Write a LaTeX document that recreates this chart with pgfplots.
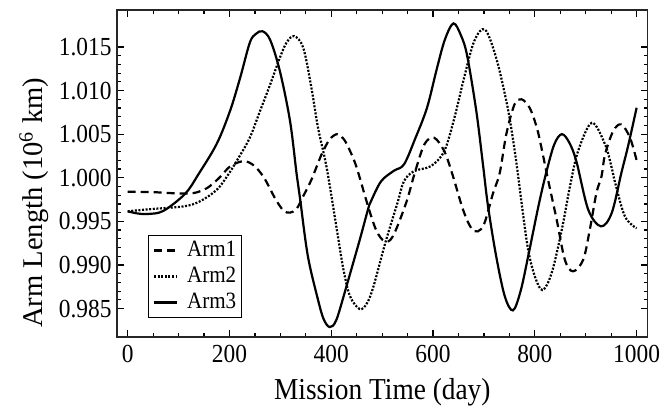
\documentclass[border=0pt]{standalone}
\usepackage{fontspec}
\setmainfont[FakeStretch=0.9]{Liberation Serif}
\newfontfamily\yfont{Liberation Serif}
\newcommand\legfont{\fontsize{11.7}{14}\selectfont}
\usepackage{pgfplots}
\pgfplotsset{compat=1.18}
\begin{document}
\begin{tikzpicture}
\begin{axis}[
  scale only axis, width=265.3pt, height=163.5pt,
  xmin=-21, xmax=1021.6, ymin=0.98174, ymax=1.01924,
  xtick={0,200,400,600,800,1000}, minor x tick num=3,
  ytick={0.985,0.99,0.995,1,1.005,1.01,1.015}, minor y tick num=4,
  xtick pos=both, ytick pos=both, xticklabel pos=lower, yticklabel pos=left,
  tick align=inside, major tick length=3.5pt, minor tick length=2pt,
  every tick/.style={black, line width=0.6pt},
  axis line style={line width=0.8pt, black!85},
  scaled y ticks=false, scaled x ticks=false,
  /pgf/number format/assume math mode=true,
  /pgf/number format/set thousands separator={},
  tick label style={font=\fontsize{13}{15}\selectfont},
  yticklabel style={/pgf/number format/.cd, fixed, fixed zerofill, precision=3, /tikz/.cd, inner sep=0pt, xshift=-2.5pt},
  xticklabel style={inner sep=0pt, yshift=-3.8pt},
  xlabel={Mission Time (day)},
  xlabel style={at={(axis description cs:0.5,-0.192)}, anchor=base, inner sep=0pt, font=\fontsize{15.2}{17}\selectfont},
  ylabel={\yfont Arm Length (10\textsuperscript{6} km)},
  ylabel style={at={(axis description cs:-0.156,0.41)}, anchor=center, inner sep=0pt, font=\fontsize{14.3}{17}\selectfont},
  legend style={at={(0.0584,0.0575)}, anchor=south west, draw=black, line width=0.6pt, fill=white,
    inner xsep=2.2pt, inner ysep=1pt, column sep=4pt, font=\legfont,
    nodes={inner sep=0.25pt, text height=9pt, text depth=3.5pt}},
  legend cell align=left,
  legend image code/.code={\draw[#1] (0pt,0pt) -- (11.7pt,0pt);},
  every axis plot/.append style={black, line width=1.1pt, smooth, tension=0.55, mark=none},
]
\addplot[dash pattern=on 4pt off 2.5pt] coordinates {
(0,0.99840) (50,0.99835) (100,0.99820) (130,0.99825) (156,0.99882) (180,1.00000)
(202,1.00134) (228,1.00190) (248,1.00140) (268,1.00000) (290,0.99760) (306,0.99625)
(319,0.99600) (332,0.99645) (345,0.99790) (361,0.99977) (381,1.00268) (397,1.00440)
(412,1.00500) (425,1.00440) (437,1.00306) (450,1.00115) (473,0.99660) (489,0.99390)
(505,0.99272) (521,0.99328) (547,0.99710) (564,1.00054) (583,1.00383) (602,1.00459)
(622,1.00306) (638,1.00040) (659,0.99633) (675,0.99423) (688,0.99385) (701,0.99480)
(718,0.99825) (731,1.00054) (744,1.00500) (760,1.00840) (774,1.00900) (790,1.00800)
(804,1.00573) (813,1.00344) (826,0.99977) (843,0.99518) (859,0.99060) (875,0.98927)
(895,0.99060) (908,0.99404) (921,0.99825) (931,1.00016) (938,1.00268) (954,1.00535)
(970,1.00612) (987,1.00459) (1000,1.00200)
};
\addlegendentry{\legfont Arm1}
\addplot[dash pattern=on 1pt off 0.8pt] coordinates {
(0,0.99615) (44,0.99640) (110,0.99672) (142,0.99730) (175,0.99862) (198,1.00040)
(220,1.00250) (240,1.00460) (260,1.00765) (280,1.01070) (299,1.01376) (312,1.01548)
(327,1.01625) (345,1.01490) (361,1.01032) (374,1.00573) (391,1.00115) (411,0.99404)
(424,0.98945) (437,0.98640) (456,0.98494) (470,0.98560) (483,0.98755) (506,0.99250)
(530,0.99710) (543,0.99962) (563,1.00077) (596,1.00134) (622,1.00306) (642,1.00688)
(661,1.01147) (681,1.01568) (702,1.01700) (724,1.01376) (744,1.00880) (755,1.00520)
(765,1.00120) (776,0.99620) (787,0.99170) (800,0.98869) (815,0.98712) (833,0.98907)
(853,0.99404) (869,0.99901) (885,1.00306) (912,1.00630) (938,1.00383) (951,1.00115)
(958,0.99939) (977,0.99557) (1000,0.99420)
};
\addlegendentry{\legfont Arm2}
\addplot[solid] coordinates {
(0,0.99615) (20,0.99590) (40,0.99585) (70,0.99620) (113,0.99817) (139,1.00040)
(175,1.00390) (201,1.00765) (221,1.01147) (240,1.01550) (252,1.01650) (265,1.01680)
(280,1.01580) (299,1.01224) (319,1.00650) (332,1.00040) (339,0.99748) (354,0.99102)
(374,0.98600) (385,0.98380) (397,0.98288) (410,0.98370) (430,0.98758) (456,0.99289)
(472,0.99633) (478,0.99730) (498,0.99960) (523,1.00080) (543,1.00154) (565,1.00450)
(588,1.00800) (607,1.01240) (623,1.01580) (640,1.01770) (655,1.01630) (667,1.01400)
(685,1.00765) (698,1.00157) (708,0.99675) (724,0.99102) (741,0.98640) (757,0.98479)
(772,0.98700) (787,0.99102) (807,0.99672) (822,1.00050) (838,1.00380) (853,1.00500)
(868,1.00400) (882,1.00180) (905,0.99633) (930,0.99443) (951,0.99595) (970,1.00054)
(984,1.00383) (1000,1.00803)
};
\addlegendentry{\legfont Arm3}
\end{axis}
\pgfresetboundingbox
\path[use as bounding box] (-58.5pt,-34.5pt) rectangle (272.5pt,168.5pt);
\end{tikzpicture}
\end{document}
